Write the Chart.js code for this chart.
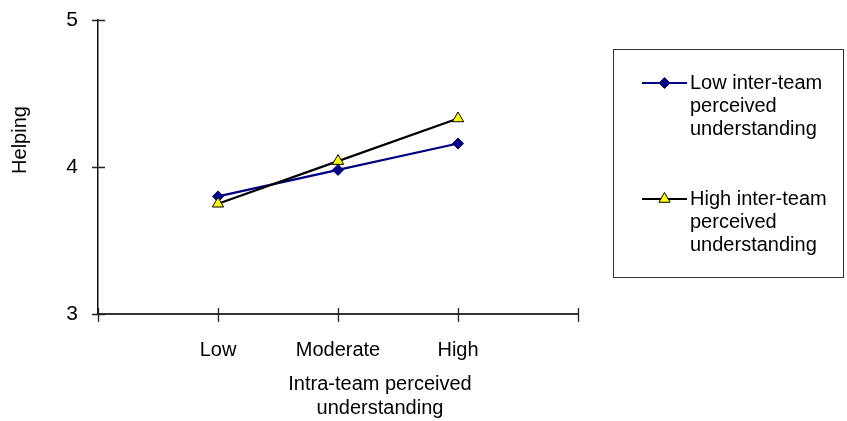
<!DOCTYPE html>
<html>
<head>
<meta charset="utf-8">
<script src="https://cdn.jsdelivr.net/npm/chart.js@4"></script>
<style>
  html, body { margin: 0; padding: 0; background: #fff; }
  #wrap { width: 847px; height: 421px; position: relative; }
</style>
</head>
<body>
<div id="wrap"><canvas id="c" width="847" height="421"></canvas></div>
<script>
// Levels of intra-team perceived understanding
const categories = ['Low', 'Moderate', 'High'];
// Mean helping for each inter-team condition
const lowInterTeam = [3.80, 3.98, 4.16];
const highInterTeam = [3.75, 4.04, 4.33];
const yTicks = [3, 4, 5];
const seriesNames = [
  ['Low inter-team', 'perceived', 'understanding'],
  ['High inter-team', 'perceived', 'understanding']
];
const yTitle = 'Helping';
const xTitle = ['Intra-team perceived', 'understanding'];

// Empty slots at both ends give the axis room beyond Low and High
const labels = [''].concat(categories, ['']);
const pad = arr => [null].concat(arr, [null]);

const FONT = '"Liberation Sans", Arial, sans-serif';
const FS = 20;

const extras = {
  id: 'extras',
  afterDraw(chart) {
    const ctx = chart.ctx;
    const xs = chart.scales.x, ys = chart.scales.y;
    const area = chart.chartArea;
    ctx.save();
    // tick marks crossing the axes
    ctx.strokeStyle = '#222';
    ctx.lineWidth = 1.3;
    ctx.beginPath();
    for (let i = 0; i < labels.length; i++) {
      const px = Math.round(xs.getPixelForValue(i)) + 0.5;
      ctx.moveTo(px, area.bottom - 6);
      ctx.lineTo(px, area.bottom + 8);
    }
    yTicks.forEach(v => {
      const py = Math.round(ys.getPixelForValue(v)) + 0.5;
      ctx.moveTo(area.left - 6, py);
      ctx.lineTo(area.left + 7, py);
    });
    ctx.stroke();

    // axis titles
    ctx.fillStyle = '#000';
    ctx.font = FS + 'px ' + FONT;
    ctx.textAlign = 'center';
    ctx.textBaseline = 'middle';
    ctx.fillText(xTitle[0], 380, 384);
    ctx.fillText(xTitle[1], 380, 408);
    ctx.save();
    ctx.translate(20, 140);
    ctx.rotate(-Math.PI / 2);
    ctx.fillText(yTitle, 0, 0);
    ctx.restore();

    // legend box
    ctx.strokeStyle = '#333';
    ctx.lineWidth = 1;
    ctx.strokeRect(613.5, 49.5, 230, 228);
    const rows = [83, 199];
    chart.data.datasets.forEach((ds, i) => {
      const y = rows[i];
      ctx.strokeStyle = ds.borderColor;
      ctx.lineWidth = 2;
      ctx.beginPath();
      ctx.moveTo(642, y);
      ctx.lineTo(687, y);
      ctx.stroke();
      ctx.fillStyle = ds.pointBackgroundColor;
      ctx.strokeStyle = ds.pointBorderColor;
      ctx.lineWidth = 1;
      Chart.helpers.drawPoint(ctx, {
        pointStyle: ds.pointStyle,
        radius: ds.pointRadius,
        borderWidth: 1
      }, 664.5, y);
      ctx.fillStyle = '#000';
      ctx.textAlign = 'left';
      seriesNames[i].forEach((t, k) => ctx.fillText(t, 690, y + k * 23));
    });
    ctx.restore();
  }
};

new Chart(document.getElementById('c'), {
  type: 'line',
  data: {
    labels: labels,
    datasets: [
      {
        label: seriesNames[0].join(' '),
        data: pad(lowInterTeam),
        borderColor: '#000080',
        borderWidth: 2.2,
        pointStyle: 'rectRot',
        pointRadius: 5.5,
        pointBackgroundColor: '#000080',
        pointBorderColor: '#000080',
        pointBorderWidth: 1,
        order: 1
      },
      {
        label: seriesNames[1].join(' '),
        data: pad(highInterTeam),
        borderColor: '#000000',
        borderWidth: 2.2,
        pointStyle: 'triangle',
        pointRadius: 6.5,
        pointBackgroundColor: '#ffff00',
        pointBorderColor: '#000000',
        pointBorderWidth: 1,
        order: 0
      }
    ]
  },
  options: {
    responsive: false,
    animation: false,
    events: [],
    layout: { padding: { top: 20, right: 269, left: 0, bottom: 0 } },
    plugins: { legend: { display: false }, tooltip: { enabled: false } },
    scales: {
      x: {
        type: 'category',
        offset: false,
        grid: { display: false, drawTicks: false },
        border: { display: true, color: '#333', width: 2 },
        ticks: {
          autoSkip: false, maxRotation: 0, padding: 24,
          color: '#000', font: { family: FONT, size: FS }
        },
        afterFit(s) { s.height = 107; s.paddingLeft = 0; s.paddingRight = 0; }
      },
      y: {
        min: 3, max: 5,
        afterBuildTicks(s) { s.ticks = yTicks.map(v => ({ value: v })); },
        grid: { display: false, drawTicks: false },
        border: { display: true, color: '#111', width: 1.5 },
        ticks: {
          padding: 20, color: '#000',
          font: { family: FONT, size: 21 }
        },
        afterFit(s) { s.width = 98; s.paddingTop = 0; s.paddingBottom = 0; }
      }
    }
  },
  plugins: [extras]
});
</script>
</body>
</html>
